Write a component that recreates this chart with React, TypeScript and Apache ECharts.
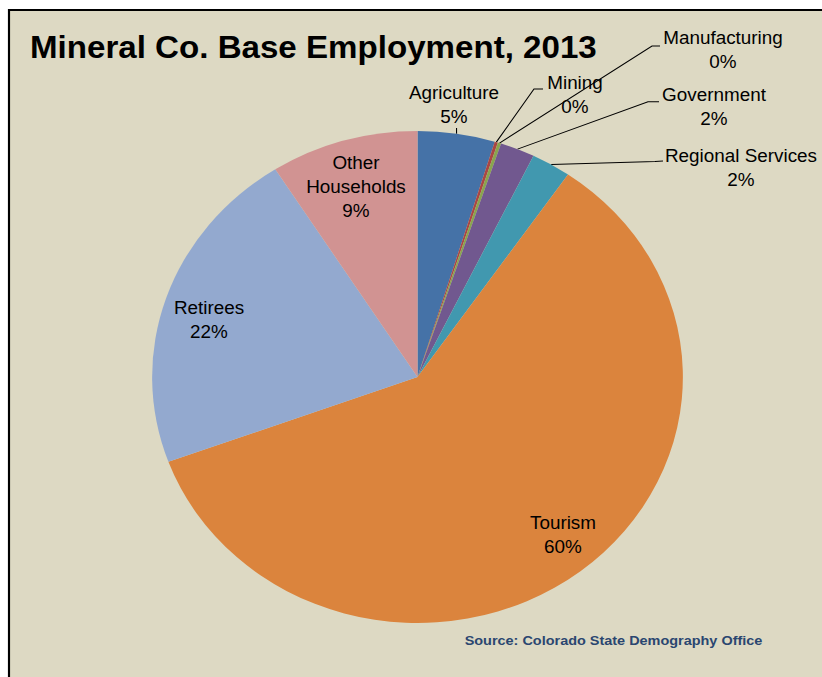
import React, { useEffect, useRef } from "react";
import * as echarts from "echarts";

// ---- data ----
const categories = [
  "Agriculture",
  "Mining",
  "Manufacturing",
  "Government",
  "Regional Services",
  "Tourism",
  "Retirees",
  "Other Households",
];
const shares = [4.7, 0.2, 0.2, 2.1, 2.4, 59.8, 21.6, 9.0];
const titleText = "Mineral Co. Base Employment, 2013";
const sourceText = "Source: Colorado State Demography Office";

// ---- styling / layout (reference px) ----
const K = 822 / 762; // horizontal stretch of the reference
const colors = ["#4572A7", "#AA4643", "#89A54E", "#71588F", "#4198AF", "#DB843D", "#93A9CF", "#D19392"];
const insideLabel = [false, false, false, false, false, true, true, true];
const labelPos: number[][] = [
  [454, 105],
  [575, 95.5],
  [723, 50.5],
  [714, 107],
  [741, 168],
  [563, 535.5],
  [209, 320.5],
  [356, 187],
];
const leaderBends: (number[][] | null)[] = [
  null,
  [[534, 89], [543, 89]],
  [[652, 46], [660, 46]],
  [[648, 101.7], [659, 101.7]],
  [[655, 161.5], [663, 161]],
  null,
  null,
  null,
];

export default function App() {
  const ref = useRef<HTMLDivElement>(null);
  useEffect(() => {
    if (!ref.current) return;
    const chart = echarts.init(ref.current, null, { renderer: "svg" });
    const font = "'Liberation Sans', Arial, sans-serif";
    chart.setOption({
      animation: false,
      backgroundColor: "#ffffff",
      graphic: [
        {
          type: "rect",
          z: -10,
          shape: { x: 9 / K, y: 10, width: 900, height: 800 },
          style: { fill: "#DDD9C3", stroke: "#000000", lineWidth: 2 },
        },
        {
          type: "text",
          x: 30 / K,
          y: 47,
          style: {
            text: titleText,
            font: `bold 30.7px ${font}`,
            fill: "#000000",
            textAlign: "left",
            textVerticalAlign: "middle",
          },
        },
        {
          type: "text",
          x: 613.5 / K,
          y: 640,
          style: {
            text: sourceText,
            font: `bold 13.4px ${font}`,
            fill: "#2A4670",
            textAlign: "center",
            textVerticalAlign: "middle",
          },
        },
      ],
      series: [
        {
          type: "pie",
          center: [417.5 / K, 377],
          radius: 246,
          startAngle: 90,
          clockwise: true,
          avoidLabelOverlap: false,
          percentPrecision: 0,
          itemStyle: { borderWidth: 0 },
          emphasis: { disabled: true },
          label: {
            show: true,
            position: "outside",
            color: "#000000",
            fontFamily: font,
            fontSize: 17.5,
            lineHeight: 24,
            align: "center",
            formatter: (p: any) =>
              (p.name === "Other Households" ? "Other\nHouseholds" : p.name) + "\n" + p.percent + "%",
          },
          labelLine: {
            show: true,
            length: 10,
            length2: 10,
            smooth: false,
            lineStyle: { color: "#000000", width: 1 },
          },
          labelLayout: (params: any) => {
            const i = params.dataIndex;
            const pos = labelPos[i];
            const out: any = {
              x: pos[0] / K,
              y: pos[1],
              align: "center",
              verticalAlign: "middle",
            };
            const pts = params.labelLinePoints;
            if (pts && !insideLabel[i]) {
              const start = pts[0];
              const bends = leaderBends[i];
              if (bends) {
                out.labelLinePoints = [start, ...bends.map((b) => [b[0] / K, b[1]])];
              } else {
                out.labelLinePoints = [start, [start[0], 128], [start[0], 128]];
              }
            }
            return out;
          },
          data: categories.map((name, i) => ({
            name,
            value: shares[i],
            itemStyle: { color: colors[i] },
            labelLine: { show: !insideLabel[i] },
          })),
        },
      ],
    });
    return () => chart.dispose();
  }, []);

  return (
    <div
      style={{
        position: "fixed",
        left: 0,
        top: 0,
        width: 822,
        height: 677,
        overflow: "hidden",
        background: "#ffffff",
      }}
    >
      <div
        ref={ref}
        style={{
          width: 762,
          height: 677,
          transform: `scaleX(${K})`,
          transformOrigin: "0 0",
        }}
      />
    </div>
  );
}
